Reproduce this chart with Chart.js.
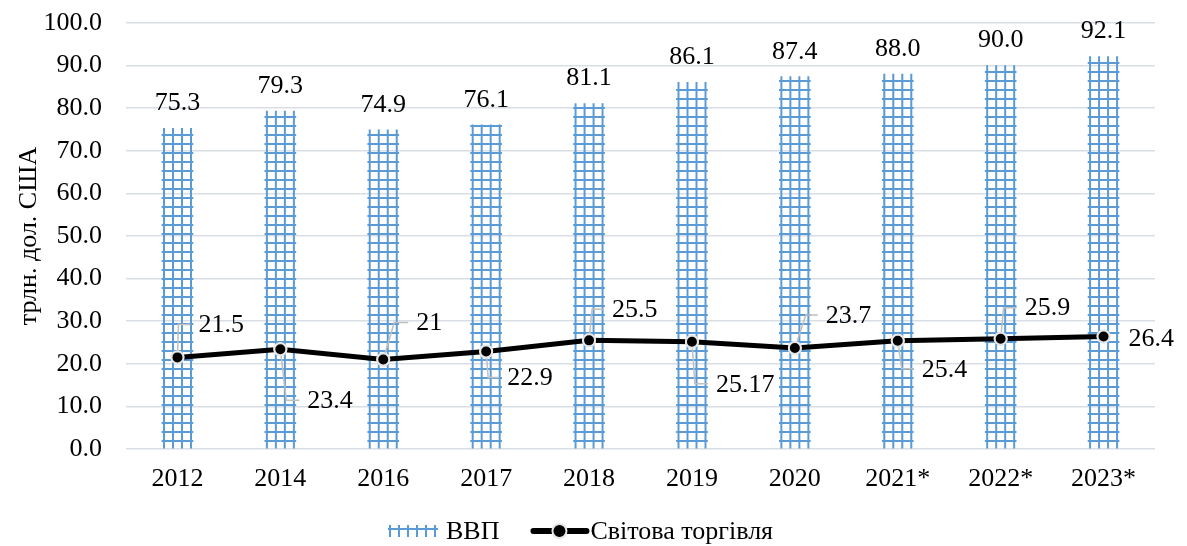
<!DOCTYPE html>
<html><head><meta charset="utf-8">
<script src="https://cdn.jsdelivr.net/npm/chart.js@4.4.1/dist/chart.umd.min.js"></script>
<style>html,body{margin:0;padding:0;background:#fff}#wrap{width:1187px;height:546px;position:relative}</style>
</head><body><div id="wrap"><canvas id="c"></canvas></div>
<script>
// ---- data ----
const categories = ['2012','2014','2016','2017','2018','2019','2020','2021*','2022*','2023*'];
const gdpValues = [75.3, 79.3, 74.9, 76.1, 81.1, 86.1, 87.4, 88.0, 90.0, 92.1];
const tradeValues = [21.5, 23.4, 21, 22.9, 25.5, 25.17, 23.7, 25.4, 25.9, 26.4];
const tradeLabels = ['21.5','23.4','21','22.9','25.5','25.17','23.7','25.4','25.9','26.4'];
const seriesNames = ['ВВП', 'Світова торгівля'];
const axisTitle = 'трлн. дол. США';

// ---- style ----
const FONT = '"Liberation Serif", "Times New Roman", serif';
const FS = 26;
const BLUE = '#5B9BD5';
const GRID = '#d9dee5';
// label placement for line labels: [dx to text left, dy of text centre, elbow dx] (px, relative to the point)
const tradeLabelPos = [[21,-33,1],[27,51,6],[33,-37,11],[21,26,2],[23,-31,3],[24,42,3],[31,-33,11],[24,28,4],[24,-31,3],[25,2,null]];

function makeTile() {
  const t = document.createElement('canvas');
  t.width = 9; t.height = 9;
  const g = t.getContext('2d');
  g.fillStyle = BLUE;
  g.fillRect(0, 0, 2, 9);
  g.fillRect(0, 0, 9, 2);
  return t;
}
const tile = makeTile();
const BAR_W = 31;

function barPattern(ctx) {
  const chart = ctx.chart;
  if (!chart.chartArea || ctx.dataIndex === undefined) return BLUE;
  const p = chart.ctx.createPattern(tile, 'repeat');
  const x = chart.scales.x.getPixelForValue(ctx.dataIndex) - BAR_W / 2 + 1;
  p.setTransform(new DOMMatrix().translate(x, chart.chartArea.bottom));
  return p;
}

const labelPlugin = {
  id: 'labels',
  afterDatasetsDraw(chart) {
    const c = chart.ctx;
    c.save();
    c.font = FS + 'px ' + FONT;
    c.fillStyle = '#000';
    // bar labels
    const bm = chart.getDatasetMeta(0);
    c.textAlign = 'center'; c.textBaseline = 'middle';
    bm.data.forEach((el, i) => {
      c.fillText(gdpValues[i].toFixed(1), el.x, el.y - 25);
    });
    // line labels
    const lm = chart.getDatasetMeta(1);
    c.textAlign = 'left';
    lm.data.forEach((el, i) => {
      const [dx, dy, ex] = tradeLabelPos[i];
      const tx = el.x + dx, ty = el.y + dy;
      if (ex !== null) {
        c.strokeStyle = '#bfbfbf'; c.lineWidth = 1.5;
        c.beginPath();
        c.moveTo(el.x, el.y);
        c.lineTo(el.x + ex, ty);
        c.lineTo(tx - 8, ty);
        c.stroke();
      }
      c.fillText(tradeLabels[i], tx, ty + 1);
    });
    c.restore();
  },
  afterDraw(chart) {
    // redraw points on top of leader lines
    const c = chart.ctx;
    const lm = chart.getDatasetMeta(1);
    lm.data.forEach(el => el.draw(c, chart.chartArea));
    // legend
    c.save();
    const y = 531;
    let x = 388;
    const p = c.createPattern(tile, 'repeat');
    p.setTransform(new DOMMatrix().translate(x + 1, y - 3));
    c.fillStyle = p;
    c.fillRect(x, y - 6, 50, 12);
    x += 58;
    c.font = FS + 'px ' + FONT;
    c.fillStyle = '#000'; c.textAlign = 'left'; c.textBaseline = 'middle';
    c.fillText(seriesNames[0], x, y + 1);
    x += c.measureText(seriesNames[0]).width + 31;
    c.strokeStyle = '#000'; c.lineWidth = 6; c.lineCap = 'round';
    c.beginPath(); c.moveTo(x + 3, y); c.lineTo(x + 56, y); c.stroke();
    c.beginPath(); c.arc(x + 29, y, 7, 0, Math.PI * 2);
    c.fillStyle = '#000'; c.fill();
    c.lineWidth = 2; c.strokeStyle = '#e6e6e6'; c.stroke();
    x += 60;
    c.fillStyle = '#000';
    c.fillText(seriesNames[1], x, y + 1);
    c.restore();
  }
};

new Chart(document.getElementById('c'), {
  data: {
    labels: categories,
    datasets: [
      { type: 'bar', label: seriesNames[0], data: gdpValues, backgroundColor: barPattern,
        borderWidth: 0, barThickness: BAR_W, order: 2 },
      { type: 'line', label: seriesNames[1], data: tradeValues, borderColor: '#000', borderWidth: 5,
        pointRadius: 6, pointBackgroundColor: '#000', pointBorderColor: '#e6e6e6', pointBorderWidth: 2,
        tension: 0, order: 1 }
    ]
  },
  options: {
    responsive: true, maintainAspectRatio: false, animation: false,
    layout: { padding: { left: 0, right: 32, top: 23, bottom: 50 } },
    plugins: { legend: { display: false }, tooltip: { enabled: false } },
    scales: {
      x: {
        grid: { display: false, drawTicks: false }, border: { display: false },
        ticks: { color: '#000', font: { family: FONT, size: FS }, padding: 15, maxRotation: 0 },
        afterFit: s => { s.height = 47; }
      },
      y: {
        min: 0, max: 100,
        grid: { color: GRID, lineWidth: 1.5, drawTicks: true, tickLength: 20, tickColor: 'rgba(0,0,0,0)' },
        border: { display: false },
        ticks: { stepSize: 10, color: '#000', font: { family: FONT, size: FS }, padding: 4,
                 callback: v => v.toFixed(1) },
        title: { display: true, text: axisTitle, color: '#000', font: { family: FONT, size: FS },
                 padding: { top: 14, bottom: 0 } },
        afterFit: s => { s.width = 126; }
      }
    }
  },
  plugins: [labelPlugin]
});
</script>
</body></html>
